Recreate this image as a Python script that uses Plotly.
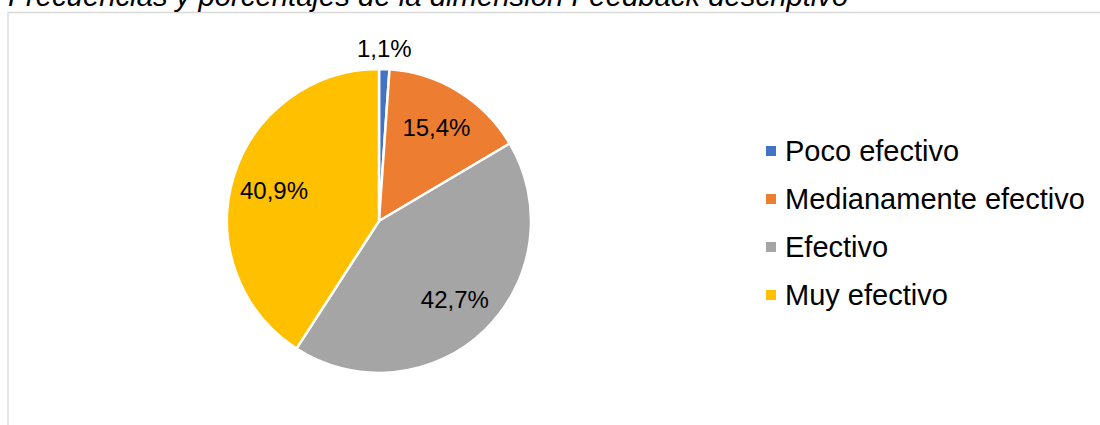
import math
import plotly.graph_objects as go

# Feedback descriptivo: share of responses per level (%)
labels = ["Poco efectivo", "Medianamente efectivo", "Efectivo", "Muy efectivo"]
values = [1.1, 15.4, 42.7, 40.9]
colors = ["#4472C4", "#ED7D31", "#A5A5A5", "#FFC000"]
# which slices carry their label outside the pie
outside = [True, False, False, False]

title_text = "Frecuencias y porcentajes de la dimensión Feedback descriptivo"

W, H = 1100, 425
FONT = "Liberation Sans, Arial, sans-serif"

# pie geometry (pixels)
CX, CY, R = 379, 221, 152


def px(x):
    return x / W


def py(y):
    return 1 - y / H


text_labels = [f"{v:.1f}".replace(".", ",") + "%" for v in values]
domain = dict(x=[px(CX - R), px(CX + R)], y=[py(CY + R), py(CY - R)])

fig = go.Figure()

# coloured slices
fig.add_trace(go.Pie(
    labels=labels,
    values=values,
    textinfo="none",
    marker=dict(colors=colors, line=dict(color="#FFFFFF", width=2.5)),
    sort=False,
    direction="clockwise",
    rotation=0,
    showlegend=False,
    hoverinfo="label+percent",
    domain=domain,
))

# transparent ring on top that carries the inside labels,
# which places them towards the outer part of each slice
fig.add_trace(go.Pie(
    labels=labels,
    values=values,
    hole=0.44,
    text=text_labels,
    textinfo="text",
    textposition=["none" if o else "inside" for o in outside],
    insidetextorientation="horizontal",
    textfont=dict(family=FONT, size=24, color="#000000"),
    marker=dict(colors=["rgba(0,0,0,0)"] * len(values), line=dict(width=0)),
    sort=False,
    direction="clockwise",
    rotation=0,
    showlegend=False,
    hoverinfo="skip",
    domain=domain,
))

annotations = []

# outside labels, centred just beyond the rim at each slice's mid-angle
total = sum(values)
start = 0.0
for v, t, o in zip(values, text_labels, outside):
    mid = (start + v / 2) / total * 2 * math.pi
    start += v
    if not o:
        continue
    dist = R + 21
    lx = CX + dist * math.sin(mid)
    ly = CY - dist * math.cos(mid)
    annotations.append(dict(text=t, xref="paper", yref="paper",
                            x=px(lx), y=py(ly), xanchor="center", yanchor="middle",
                            showarrow=False,
                            font=dict(family=FONT, size=24, color="#000000")))

shapes = [
    # chart frame (light grey border)
    dict(type="rect", xref="paper", yref="paper",
         x0=px(8), x1=1.2, y0=-0.2, y1=py(12.5),
         line=dict(color="#D9D9D9", width=1.3), fillcolor="rgba(0,0,0,0)", layer="below"),
]

# legend: square swatches with labels
leg_y0, leg_step = 151, 48
for i, (lab, col) in enumerate(zip(labels, colors)):
    yc = leg_y0 + i * leg_step
    shapes.append(dict(type="rect", xref="paper", yref="paper",
                       x0=px(766), x1=px(776), y0=py(yc + 5), y1=py(yc - 5),
                       line=dict(width=0), fillcolor=col))
    annotations.append(dict(text=lab, xref="paper", yref="paper",
                            x=px(783), y=py(yc), xanchor="left", yanchor="middle",
                            showarrow=False,
                            font=dict(family=FONT, size=29, color="#000000")))

annotations.append(dict(text=f"<i>{title_text}</i>", xref="paper", yref="paper",
                        x=px(6), y=py(-4.5), xanchor="left", yanchor="middle",
                        showarrow=False,
                        font=dict(family=FONT, size=29.3, color="#000000")))

fig.update_layout(
    width=W, height=H,
    margin=dict(l=0, r=0, t=0, b=0),
    paper_bgcolor="#FFFFFF",
    plot_bgcolor="#FFFFFF",
    shapes=shapes,
    annotations=annotations,
)

fig.write_html("out.html", include_plotlyjs=True, full_html=True,
               config={"displayModeBar": False})
